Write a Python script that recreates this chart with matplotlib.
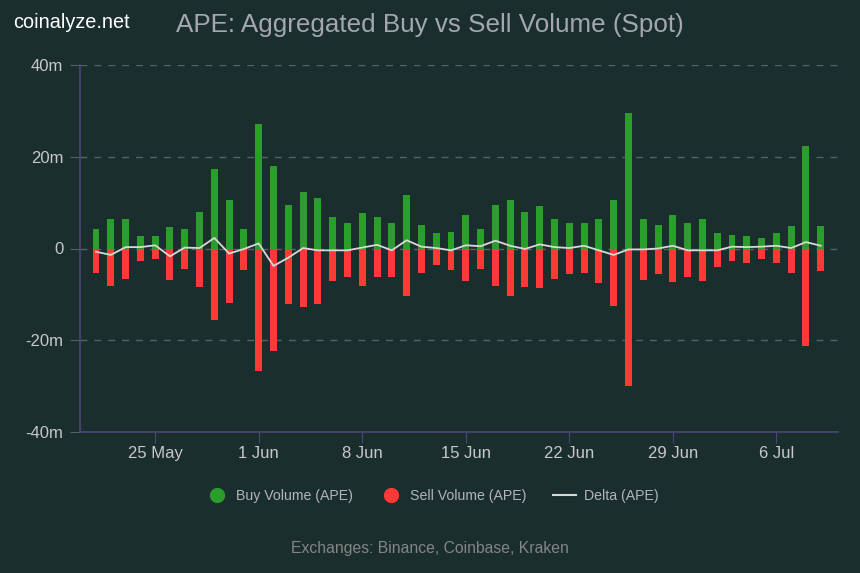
import matplotlib
matplotlib.use("Agg")
import matplotlib.pyplot as plt
from matplotlib.lines import Line2D
import pandas as pd

plt.rcParams['font.family'] = ['Liberation Sans', 'DejaVu Sans']

# daily data, 21 May -> 9 Jul (millions of APE)
dates = pd.date_range("2024-05-21", "2024-07-09", freq="D")
buy = [4.3, 6.5, 6.5, 2.8, 2.8, 4.6, 4.3, 7.9, 17.3, 10.5,
       4.3, 27.2, 18.0, 9.5, 12.3, 11.1, 6.8, 5.6, 7.7, 6.8,
       5.6, 11.7, 5.2, 3.4, 3.7, 7.4, 4.3, 9.5, 10.6, 8.0,
       9.3, 6.5, 5.6, 5.6, 6.5, 10.6, 29.5, 6.5, 5.2, 7.4,
       5.6, 6.5, 3.4, 3.0, 2.8, 2.2, 3.4, 4.8, 22.3, 5.0]
sell = [5.3, 8.2, 6.6, 2.8, 2.2, 6.9, 4.4, 8.4, 15.5, 11.8,
        4.7, 26.7, 22.4, 12.1, 12.7, 12.1, 7.1, 6.2, 8.2, 6.2,
        6.2, 10.3, 5.3, 3.7, 4.7, 7.1, 4.4, 8.2, 10.3, 8.4,
        8.7, 6.6, 5.6, 5.3, 7.5, 12.5, 30.0, 6.9, 5.6, 7.4,
        6.2, 7.1, 4.0, 2.8, 3.1, 2.2, 3.1, 5.3, 21.2, 4.8]
delta = [-0.7, -1.4, 0.3, 0.3, 0.7, -1.7, 0.2, 0.1, 2.3, -1.1,
         -0.1, 1.1, -3.8, -2.0, 0.1, -0.4, -0.4, -0.4, 0.2, 0.8,
         -0.4, 1.8, 0.4, 0.1, -0.4, 0.7, 0.5, 1.7, 0.6, -0.1,
         0.9, 0.3, 0.1, 0.6, -0.4, -1.4, -0.2, -0.2, 0.0, 0.6,
         -0.4, -0.4, -0.4, 0.4, 0.3, 0.4, 0.6, 0.1, 1.4, 0.6]
tick_dates = ["2024-05-25", "2024-06-01", "2024-06-08", "2024-06-15",
              "2024-06-22", "2024-06-29", "2024-07-06"]
y_ticks = [-40, -20, 0, 20, 40]
y_labels = ["-40m", "-20m", "0", "20m", "40m"]

bg = "#1a2e2e"
green = "#2a9d2a"
red = "#ff3838"
axis_col = "#4a4878"

fig = plt.figure(figsize=(8.6, 5.73), dpi=100, facecolor=bg)
ax = fig.add_axes([80/860, 1-432/573, (838-80)/860, (432-65)/573])
ax.set_facecolor(bg)

sell_neg = [-s for s in sell]
ax.bar(dates, buy, width=0.47, color=green, zorder=3)
ax.bar(dates, sell_neg, width=0.47, color=red, zorder=3)
ax.plot(dates, delta, color="#d8d8d8", lw=1.3, zorder=4)

ax.set_ylim(-40, 40)
ax.set_xlim(pd.Timestamp("2024-05-19 22:00"), pd.Timestamp("2024-07-10 04:00"))
ax.set_yticks(y_ticks)
ax.set_yticklabels(y_labels)
ax.yaxis.grid(True, color="#5a5e66", linestyle=(0, (5, 5)), lw=1, zorder=1)

ticks = pd.to_datetime(tick_dates)
ax.set_xticks(ticks)
ax.set_xticklabels([d.strftime("%-d %b") for d in ticks])

for s in ["top", "right"]:
    ax.spines[s].set_visible(False)
ax.spines["left"].set_color(axis_col)
ax.spines["bottom"].set_color(axis_col)
ax.spines["left"].set_linewidth(1.2)
ax.spines["bottom"].set_linewidth(1.2)
ax.tick_params(axis="y", colors="#5a5e66", length=7, labelcolor="#c8c8c8",
               labelsize=12, pad=5)
ax.tick_params(axis="x", colors=axis_col, length=8, labelcolor="#c8c8c8",
               labelsize=12, pad=2)

fig.text(13/860, 1-22/573, "coinalyze.net", color="white", fontsize=14.3,
         va="center", ha="left")
fig.text(430/860, 1-25/573, "APE: Aggregated Buy vs Sell Volume (Spot)",
         color="#a4a8ae", fontsize=18.7, va="center", ha="center")

handles = [
    Line2D([], [], marker="o", ls="", color=green, markersize=10),
    Line2D([], [], marker="o", ls="", color=red, markersize=10),
    Line2D([], [], color="#d8d8d8", lw=1.5),
]
fig.legend(handles, ["Buy Volume (APE)", "Sell Volume (APE)", "Delta (APE)"],
           loc="center", bbox_to_anchor=(432/860, 1-496/573), ncol=3,
           frameon=False, labelcolor="#b4b4bc", fontsize=10.2,
           handlelength=1.6, columnspacing=1.9, handletextpad=0.55)

fig.text(430/860, 1-549/573, "Exchanges: Binance, Coinbase, Kraken",
         color="#858585", fontsize=11.3, ha="center", va="center")

fig.savefig("out.png", dpi=100, facecolor=bg)
